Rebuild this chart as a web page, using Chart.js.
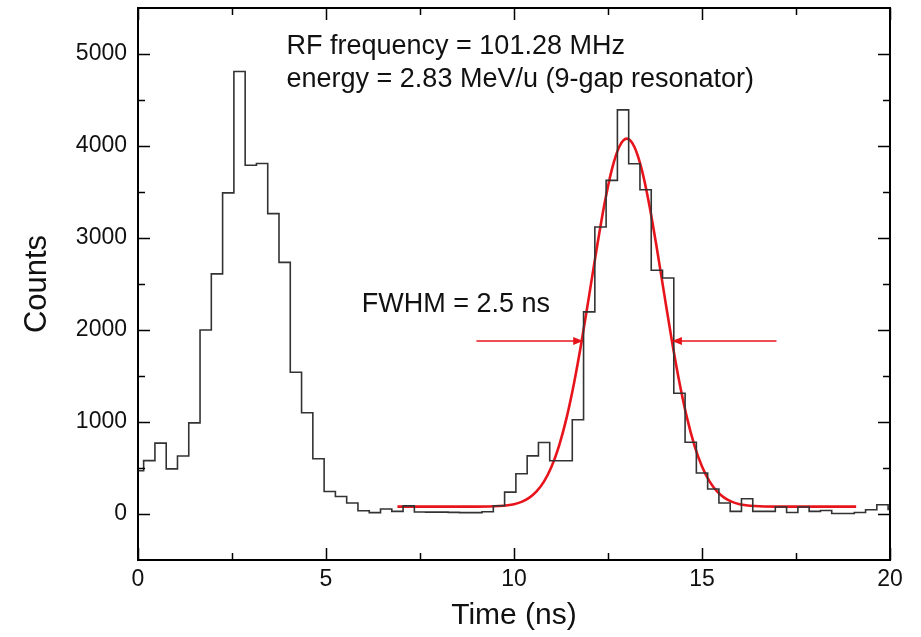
<!DOCTYPE html>
<html><head><meta charset="utf-8">
<script src="https://cdn.jsdelivr.net/npm/chart.js@4/dist/chart.umd.min.js"></script>
<style>html,body{margin:0;padding:0;background:#fff;} #wrap{width:921px;height:637px;}</style>
</head><body><div id="wrap"><canvas id="c" width="921" height="637"></canvas></div>
<script>
// ---- data ----
const timeNs = [0, 0.3, 0.6, 0.9, 1.2, 1.5, 1.8, 2.1, 2.4, 2.7, 3.0, 3.3, 3.6, 3.9, 4.2, 4.5, 4.8, 5.1, 5.4, 5.7,
  6.0, 6.3, 6.6, 6.9, 7.2, 7.5, 7.8, 8.1, 8.4, 8.7, 9.0, 9.3, 9.6, 9.9, 10.2, 10.5, 10.8, 11.1, 11.4, 11.7,
  12.0, 12.3, 12.6, 12.9, 13.2, 13.5, 13.8, 14.1, 14.4, 14.7, 15.0, 15.3, 15.6, 15.9, 16.2, 16.5, 16.8, 17.1, 17.4, 17.7,
  18.0, 18.3, 18.6, 18.9, 19.2, 19.5, 19.8, 20.1];
const counts = [470, 580, 770, 490, 630, 990, 2000, 2610, 3490, 4810, 3790, 3810, 3265, 2735, 1540, 1100, 600, 245, 190, 120,
  35, 15, 55, 28, 88, 22, 20, 20, 18, 15, 15, 25, 90, 238, 437, 632, 777, 578, 578, 1025,
  2197, 3119, 3626, 4393, 3807, 3525, 2650, 2566, 1312, 780, 445, 271, 119, 28, 166, 28, 28, 76, 17, 76,
  28, 38, 5, 5, 17, 47, 101, 50];
const fitTime = [6.9, 8.0, 9.0, 9.6, 10.0, 10.2, 10.4, 10.6, 10.8, 11.0, 11.2, 11.4, 11.6, 11.8, 12.0, 12.2, 12.4, 12.6, 12.8,
  13.0, 13.2, 13.4, 13.6, 13.8, 14.0, 14.2, 14.4, 14.6, 14.8, 15.0, 15.2, 15.4, 15.6, 15.8, 16.0, 16.4, 17.0, 18.0, 19.1];
const fitCounts = [80, 80, 80, 87, 107, 132, 175, 245, 354, 516, 744, 1048, 1430, 1881, 2379, 2886, 3357, 3741, 3992,
  4080, 3992, 3741, 3357, 2886, 2379, 1881, 1430, 1048, 744, 516, 354, 245, 175, 132, 107, 87, 80, 80, 80];
const xTicks = [0, 5, 10, 15, 20];
const yTicks = [0, 1000, 2000, 3000, 4000, 5000];
const xMinorTicks = [2.5, 7.5, 12.5, 17.5];
const yMinorTicks = [500, 1500, 2500, 3500, 4500];
const noteLines = ["RF frequency = 101.28 MHz", "energy = 2.83 MeV/u (9-gap resonator)"];
const fwhmText = "FWHM = 2.5 ns";
const fwhmLevel = 1885;
const fwhmLeftArrow = [9.0, 11.84];   // tail, head (ns)
const fwhmRightArrow = [16.98, 14.2]; // tail, head (ns)

// ---- rendering ----
const FONT = "'Liberation Sans', Arial, Helvetica, sans-serif";
const RED = '#e8141c';

const framePlugin = {
  id: 'frame',
  afterDraw(chart) {
    const {ctx, chartArea: a, scales: {x, y}} = chart;
    ctx.save();
    ctx.strokeStyle = '#000';
    ctx.lineWidth = 2;
    ctx.strokeRect(a.left, a.top, a.right - a.left, a.bottom - a.top);
    ctx.lineWidth = 1.5;
    ctx.beginPath();
    const tx = (v, len) => {
      const p = Math.round(x.getPixelForValue(v)) + 0.5;
      ctx.moveTo(p, a.bottom); ctx.lineTo(p, a.bottom - len);
      ctx.moveTo(p, a.top); ctx.lineTo(p, a.top + len);
    };
    const ty = (v, len) => {
      const p = Math.round(y.getPixelForValue(v)) + 0.5;
      ctx.moveTo(a.left, p); ctx.lineTo(a.left + len, p);
      ctx.moveTo(a.right, p); ctx.lineTo(a.right - len, p);
    };
    x.ticks.forEach(t => tx(t.value, 12));
    xMinorTicks.forEach(v => tx(v, 7));
    y.ticks.forEach(t => ty(t.value, 12));
    yMinorTicks.forEach(v => ty(v, 7));
    ctx.stroke();

    // annotations
    ctx.fillStyle = '#111';
    ctx.font = '27px ' + FONT;
    ctx.textAlign = 'left';
    ctx.textBaseline = 'alphabetic';
    ctx.fillText(noteLines[0], x.getPixelForValue(3.95), y.getPixelForValue(5003));
    ctx.fillText(noteLines[1], x.getPixelForValue(3.95), y.getPixelForValue(4645));
    ctx.fillText(fwhmText, x.getPixelForValue(5.95), y.getPixelForValue(2197));

    // FWHM arrows
    const yy = Math.round(y.getPixelForValue(fwhmLevel));
    const arrow = (tail, head) => {
      const x0 = x.getPixelForValue(tail), x1 = x.getPixelForValue(head);
      const dir = Math.sign(x1 - x0);
      ctx.strokeStyle = RED; ctx.fillStyle = RED; ctx.lineWidth = 1.6;
      ctx.beginPath(); ctx.moveTo(x0, yy); ctx.lineTo(x1 - dir * 6, yy); ctx.stroke();
      ctx.beginPath(); ctx.moveTo(x1, yy); ctx.lineTo(x1 - dir * 10, yy - 4); ctx.lineTo(x1 - dir * 10, yy + 4); ctx.closePath(); ctx.fill();
    };
    arrow(fwhmLeftArrow[0], fwhmLeftArrow[1]);
    arrow(fwhmRightArrow[0], fwhmRightArrow[1]);
    ctx.restore();
  }
};

new Chart(document.getElementById('c'), {
  type: 'line',
  data: {
    datasets: [
      { data: timeNs.map((t, i) => ({x: t, y: counts[i]})), stepped: 'middle', borderColor: '#333',
        borderWidth: 1.6, pointRadius: 0, fill: false },
      { data: fitTime.map((t, i) => ({x: t, y: fitCounts[i]})), cubicInterpolationMode: 'monotone', borderColor: RED,
        borderWidth: 2.6, pointRadius: 0, fill: false }
    ]
  },
  options: {
    responsive: false, animation: false, devicePixelRatio: 1,
    layout: { padding: { top: 8, right: 31, left: 0, bottom: 0 } },
    plugins: { legend: { display: false }, tooltip: { enabled: false } },
    scales: {
      x: {
        type: 'linear', min: 0, max: 20,
        afterBuildTicks: s => { s.ticks = xTicks.map(v => ({value: v})); },
        afterFit: s => { s.height = 77; s.paddingLeft = 0; s.paddingRight = 0; },
        grid: { display: false, drawTicks: false }, border: { display: false },
        ticks: { font: { family: FONT, size: 23 }, color: '#111', padding: 6, maxRotation: 0, autoSkip: false,
                 callback: v => String(v) },
        title: { display: true, text: 'Time (ns)', color: '#111', font: { family: FONT, size: 30 }, padding: { top: 0, bottom: 3 } }
      },
      y: {
        type: 'linear', min: -500, max: 5500,
        afterBuildTicks: s => { s.ticks = yTicks.map(v => ({value: v})); },
        afterFit: s => { s.width = 138; s.paddingTop = 0; s.paddingBottom = 0; },
        grid: { display: false, drawTicks: false }, border: { display: false },
        ticks: { font: { family: FONT, size: 23 }, color: '#111', padding: 11, autoSkip: false,
                 callback: v => String(v) },
        title: { display: true, text: 'Counts', color: '#111', font: { family: FONT, size: 31 }, padding: { top: 19, bottom: 0 } }
      }
    }
  },
  plugins: [framePlugin]
});
</script></body></html>
